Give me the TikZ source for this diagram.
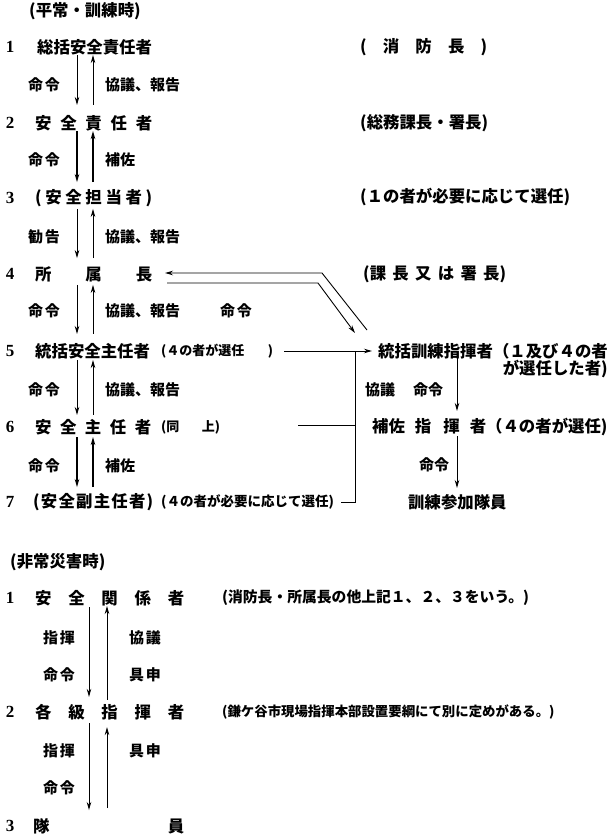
\documentclass[tikz,border=0pt]{standalone}
\usepackage{fontspec}
\setmainfont{Noto Sans CJK JP}
\newfontfamily\numf{Liberation Serif}
\usetikzlibrary{arrows.meta}
\newcommand{\fsz}[1]{\fontsize{#1pt}{#1pt}\selectfont}
\newcommand{\wbox}[2]{\makebox[#1pt]{#2}}
\newcommand{\hf}{\hfill{}}
\tikzset{
 txt/.style={inner sep=0pt, anchor=west, font=\bfseries\fsz{16.4}},
 num/.style={inner sep=0pt, font=\numf\bfseries\fsz{17}},
 sml/.style={inner sep=0pt, anchor=west, font=\bfseries\fsz{13}},
 lbl/.style={inner sep=0pt, font=\bfseries\fsz{15}},
 lblw/.style={lbl, anchor=west},
 arr/.style={-{Stealth[length=8pt,width=4.5pt]}, line width=0.9pt},
 tarr/.style={arr, line width=1.6pt},
 ln/.style={line width=1pt},
}
\begin{document}
\begin{tikzpicture}[x=1pt,y=-1pt]
\fill[white] (0,0) rectangle (610,836);
\useasboundingbox (0,0) rectangle (610,836);
% ---------- top section ----------
\node[txt] (h1) at (29,11) {(平常・訓練時)};
\node[num] (n1) at (10,47) {1};
\node[txt] (r1) at (37,47) {総括安全責任者};
\node[txt] (c1) at (360,47) {\wbox{127}{(\hf 消\hf 防\hf 長\hf )}};
\node[num] (n2) at (10,123) {2};
\node[txt] (r2) at (35,123) {\wbox{117}{安\hf 全\hf 責\hf 任\hf 者}};
\node[txt] (c2) at (360,123) {(総務課長・署長)};
\node[num] (n3) at (10,198) {3};
\node[txt] (r3) at (35,198) {\wbox{117}{(\hf 安\hf 全\hf 担\hf 当\hf 者\hf )}};
\node[txt] (c3) at (360,197) {(１の者が必要に応じて選任)};
\node[num] (n4) at (10,274) {4};
\node[txt] (r4) at (35,274) {\wbox{117}{所\hf 属\hf 長}};
\node[txt] (c4) at (363,274) {\wbox{143}{(課\hf 長\hf 又\hf は\hf 署\hf 長)}};
\node[num] (n5) at (10,351) {5};
\node[txt] (r5) at (35,351) {統括安全主任者};
\node[sml] (s5) at (161,351) {\wbox{112}{(４の者が選任\hf )}};
\node[txt] (t5) at (378,351) {統括訓練指揮者（１及び４の者};
\node[txt,anchor=east] (t5b) at (608,369) {が選任した者)};
\node[num] (n6) at (10,427) {6};
\node[txt] (r6) at (35,427) {\wbox{116}{安\hf 全\hf 主\hf 任\hf 者}};
\node[sml] (s6) at (161,427) {\wbox{59}{(同\hf 上)}};
\node[txt] (t6) at (372,427) {補佐\hspace{10pt}{}指\hspace{12pt}{}揮\hspace{10pt}{}者（４の者が選任)};
\node[num] (n7) at (10,502) {7};
\node[txt] (r7) at (33,502) {\wbox{120}{(\hf 安\hf 全\hf 副\hf 主\hf 任\hf 者\hf )}};
\node[sml,font=\bfseries\fsz{13.5}] (s7) at (161,502) {(４の者が必要に応じて選任)};
\node[txt] (u7) at (408,502) {訓練参加隊員};
% labels
\node[lbl] (a1) at (44,85) {\wbox{32}{命\hf 令}};
\node[lblw] (b1) at (105,85) {協議、報告};
\node[lbl] (a2) at (44,160) {\wbox{32}{命\hf 令}};
\node[lblw] (b2) at (105,160) {補佐};
\node[lbl] (a3) at (44,237) {\wbox{32}{勧\hf 告}};
\node[lblw] (b3) at (105,237) {協議、報告};
\node[lbl] (a4) at (44,311) {\wbox{32}{命\hf 令}};
\node[lblw] (b4) at (105,311) {協議、報告};
\node[lbl] (m4) at (236,311) {\wbox{32}{命\hf 令}};
\node[lbl] (a5) at (44,390) {\wbox{32}{命\hf 令}};
\node[lblw] (b5) at (105,390) {協議、報告};
\node[lbl] (a6) at (44,466) {\wbox{32}{命\hf 令}};
\node[lblw] (b6) at (105,466) {補佐};
\node[lbl] (k5) at (380,390) {協議};
\node[lbl] (k6) at (428,390) {命令};
\node[lbl] (k7) at (434,465) {命令};
% arrow columns
\coordinate (xa) at (77,0);
\coordinate (xb) at (93,0);
\draw[arr,shorten >=10pt] (r1.south -| xa) -- (r2.north -| xa);
\draw[arr,shorten <=10pt] (r2.north -| xb) -- (r1.south -| xb);
\draw[tarr,shorten >=7pt] (r2.south -| xa) -- (r3.north -| xa);
\draw[tarr,shorten <=7pt] (r3.north -| xb) -- (r2.south -| xb);
\draw[arr,shorten <=2pt,shorten >=8pt] (r3.south -| xa) -- (r4.north -| xa);
\draw[arr,shorten <=8pt,shorten >=2pt] (r4.north -| xb) -- (r3.south -| xb);
\draw[arr,shorten <=3pt,shorten >=9pt] (r4.south -| xa) -- (r5.north -| xa);
\draw[arr,shorten <=9pt,shorten >=3pt] (r5.north -| xb) -- (r4.south -| xb);
\draw[arr,shorten <=1pt,shorten >=4pt] (r5.south -| xa) -- (r6.north -| xa);
\draw[arr,shorten <=4pt,shorten >=1pt] (r6.north -| xb) -- (r5.south -| xb);
\draw[tarr,shorten <=2pt,shorten >=6pt] (r6.south -| xa) -- (r7.north -| xa);
\draw[tarr,shorten <=6pt,shorten >=2pt] (r7.north -| xb) -- (r6.south -| xb);
% right side connectors
\draw[arr,shorten <=11pt,shorten >=6pt] (s5.east) -- (t5.west);
\coordinate (vx) at (355,0);
\draw[ln] (s5.east -| vx) -- (s7.east -| vx) -- ([xshift=7pt]s7.east);
\coordinate (l6) at (298,425);
\draw[ln] (l6) -- (l6 -| vx);
\coordinate (ua) at (367,330);
\coordinate (ub) at (322,273);
\coordinate (uc) at (165,273);
\draw[arr] (ua) -- (ub) -- (uc);
\coordinate (la) at (167,283);
\coordinate (lb) at (318,283);
\coordinate (lc) at (355,333);
\draw[arr] (la) -- (lb) -- (lc);
\coordinate (rx) at (457,0);
\draw[arr,shorten <=-2pt,shorten >=7pt] (t5.south -| rx) -- (t6.north -| rx);
\draw[arr,shorten >=6pt] (t6.south -| rx) -- (u7.north -| rx);
% ---------- bottom section ----------
\node[txt] (h2) at (10,562) {(非常災害時)};
\node[num] (m1) at (10,598) {1};
\node[txt] (q1) at (35,598) {\wbox{149}{安\hf 全\hf 関\hf 係\hf 者}};
\node[txt,font=\bfseries\fsz{14.8}] (p1) at (222,598) {(消防長・所属長の他上記１、２、３をいう。)};
\node[num] (m2) at (10,712) {2};
\node[txt] (q2) at (35,712) {\wbox{149}{各\hf 級\hf 指\hf 揮\hf 者}};
\node[txt,font=\bfseries\fsz{13.4}] (p2) at (222,712) {(鎌ケ谷市現場指揮本部設置要綱にて別に定めがある。)};
\node[num] (m3) at (10,826) {3};
\node[txt] (q3) at (33,826) {\wbox{151}{隊\hf 員}};
\node[lbl] (d1) at (59,638) {\wbox{32}{指\hf 揮}};
\node[lbl] (e1) at (145,638) {\wbox{32}{協\hf 議}};
\node[lbl] (d2) at (59,675) {\wbox{32}{命\hf 令}};
\node[lbl] (e2) at (145,675) {\wbox{32}{具\hf 申}};
\node[lbl] (d3) at (59,751) {\wbox{32}{指\hf 揮}};
\node[lbl] (e3) at (145,751) {\wbox{32}{具\hf 申}};
\node[lbl] (d4) at (59,788) {\wbox{32}{命\hf 令}};
\coordinate (ya) at (89,0);
\coordinate (yb) at (107,0);
\draw[arr,shorten <=1pt,shorten >=7pt] (q1.south -| ya) -- (q2.north -| ya);
\draw[arr,shorten <=4pt] (q2.north -| yb) -- (q1.south -| yb);
\draw[arr,shorten <=3pt,shorten >=8pt] (q2.south -| ya) -- (q3.north -| ya);
\draw[arr,shorten <=10pt,shorten >=7pt] (q3.north -| yb) -- (q2.south -| yb);
\end{tikzpicture}
\end{document}
